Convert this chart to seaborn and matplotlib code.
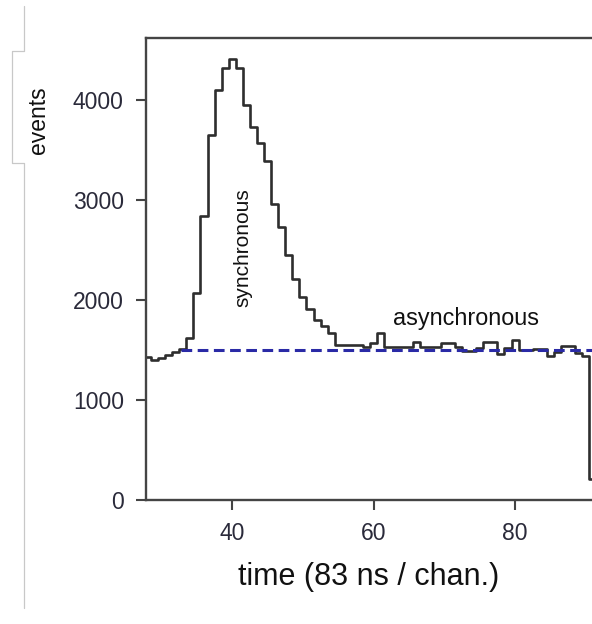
import matplotlib
matplotlib.use("Agg")
import matplotlib.pyplot as plt
from matplotlib.lines import Line2D
import seaborn as sns

# channel number (bin centres, 1 chan = 83 ns) and counts per channel
channels = list(range(28, 92))
counts = [
    1430, 1400, 1420, 1450, 1480, 1510, 1620, 2070, 2840, 3650,
    4100, 4320, 4410, 4320, 3950, 3730, 3570, 3390, 2960, 2730,
    2450, 2210, 2030, 1910, 1800, 1740, 1670, 1550, 1550, 1550,
    1550, 1530, 1570, 1670, 1530, 1530, 1530, 1530, 1580, 1530,
    1530, 1530, 1570, 1570, 1530, 1490, 1490, 1520, 1580, 1580,
    1460, 1520, 1600, 1500, 1500, 1510, 1510, 1440, 1480, 1540,
    1540, 1470, 1440, 210,
]

# flat background level of asynchronous events
bg_level = 1500
bg_start = 32.7
bg_end = 91.5

x_ticks = [40, 60, 80]
y_ticks = [0, 1000, 2000, 3000, 4000]

sns.set_style("ticks")
plt.rcParams["font.family"] = ["Liberation Sans", "DejaVu Sans"]

fig = plt.figure(figsize=(5.92, 6.24), dpi=100)
ax = fig.add_axes([146 / 592, 1 - 500 / 624, 1 - 146 / 592, (500 - 38) / 624])

sns.histplot(x=channels, weights=counts, discrete=True, element="step",
             fill=False, color="#2e2e2e", linewidth=1.9, ax=ax)
ax.hlines(bg_level, bg_start, bg_end, colors="#2a2aa6", linewidth=2.2,
          linestyles=(0, (3.5, 1.8)))

ax.text(41.55, 2520, "synchronous", rotation=90, ha="center", va="center",
        fontsize=15, color="#111111")
ax.text(73.0, 1810, "asynchronous", ha="center", va="center",
        fontsize=16.8, color="#111111")

ax.set_xlim(27.8, 90.88)
ax.set_ylim(0, 4620)
ax.set_xticks(x_ticks)
ax.set_yticks(y_ticks)

for side in ["left", "bottom", "top"]:
    ax.spines[side].set_color("#444444")
    ax.spines[side].set_linewidth(1.7)
ax.spines["right"].set_visible(False)
ax.tick_params(direction="out", length=7, width=1.5, color="#444444",
               labelsize=16.5, labelcolor="#2a2a3a", pad=9)

ax.set_xlabel("time (83 ns / chan.)", fontsize=22, color="#111111", labelpad=12)
ax.set_ylabel("events", fontsize=16.5, color="#111111")
ax.yaxis.set_label_coords(-96 / 446, (500 - 120) / 462)

# grey bracket lines along the left edge of the picture
gx = [24, 24, 12, 12, 24, 24]
gy = [6, 51, 51, 163, 163, 608]
fig.add_artist(Line2D([v / 592 for v in gx], [1 - v / 624 for v in gy],
                      color="#c8c8c8", linewidth=0.9))

fig.savefig("out.png", dpi=100)
